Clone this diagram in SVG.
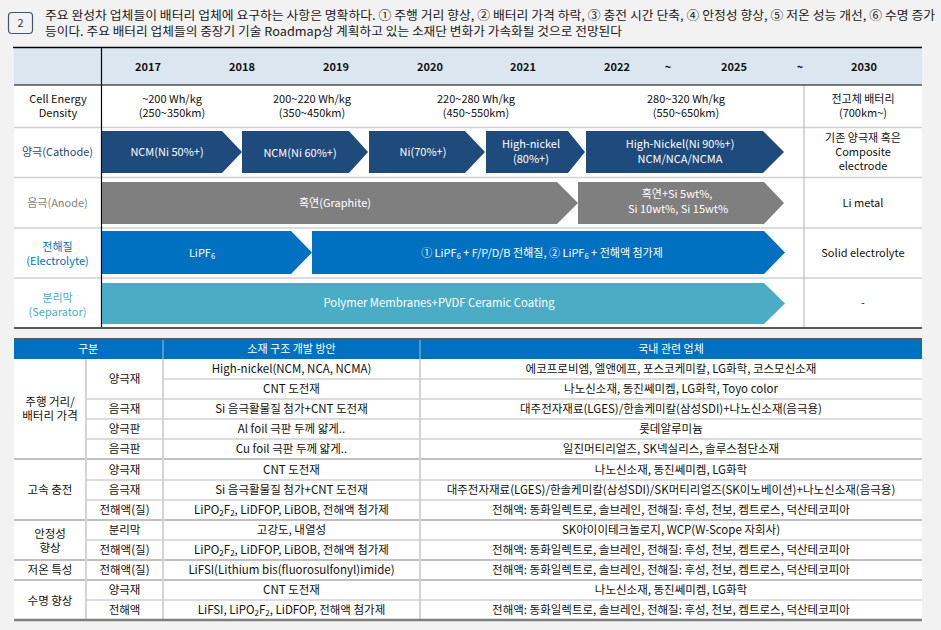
<svg xmlns="http://www.w3.org/2000/svg" width="941" height="630" viewBox="0 0 941 630">
<style>
text{font-family:"Noto Sans CJK KR","Noto Sans",sans-serif;font-size:11px;fill:#111;text-anchor:middle}
.w{fill:#fff}
.yr{font-weight:bold;fill:#111}
.sub{font-size:7.5px}
.bt{font-size:11.5px}
.bt .sub{font-size:8px}
.ttl{font-size:12px;text-anchor:start;fill:#1a1a1a}
.rl{stroke:#d0d0d0;stroke-width:1.5;fill:none}
.gl{stroke:#c0c0c0;stroke-width:2;fill:none}
.vl{stroke:#d4d4d4;stroke-width:2;fill:none}
.cat{fill:#1f4a7c}
.ano{fill:#7f7f7f}
.ele{fill:#0070c0}
.sep{fill:#4bacc6}
</style>
<rect x="0" y="0" width="941" height="630" fill="#f2f2f2"/>

<g id="title">
<rect x="8.5" y="12.5" width="24" height="21" rx="3.5" fill="none" stroke="#44546a" stroke-width="1.2"/>
<text x="20.5" y="27" style="font-size:11px;fill:#333">2</text>
<text class="ttl" x="45" y="19.5" textLength="890" lengthAdjust="spacingAndGlyphs">주요 완성차 업체들이 배터리 업체에 요구하는 사항은 명확하다. ① 주행 거리 향상, ② 배터리 가격 하락, ③ 충전 시간 단축, ④ 안정성 향상, ⑤ 저온 성능 개선, ⑥ 수명 증가</text>
<text class="ttl" x="45" y="36" textLength="577" lengthAdjust="spacingAndGlyphs">등이다. 주요 배터리 업체들의 중장기 기술 Roadmap상 계획하고 있는 소재단 변화가 가속화될 것으로 전망된다</text>
</g>

<g id="roadmap-table">
<rect x="14" y="48" width="908" height="280" fill="#fff"/>
<rect x="14" y="48" width="908" height="37" fill="#dce6f1"/>
<line x1="14" y1="127.5" x2="922" y2="127.5" class="rl"/>
<line x1="14" y1="177.5" x2="922" y2="177.5" class="rl"/>
<line x1="14" y1="228" x2="922" y2="228" class="rl"/>
<line x1="14" y1="278" x2="922" y2="278" class="rl"/>
<line x1="804" y1="85" x2="804" y2="328" stroke="#bfbfbf" stroke-width="1.2"/>
<line x1="13" y1="47.5" x2="922" y2="47.5" stroke="#000" stroke-width="1.5"/>
<line x1="14" y1="85" x2="922" y2="85" stroke="#000" stroke-width="1.2"/>
<line x1="101.5" y1="47.5" x2="101.5" y2="328" stroke="#000" stroke-width="1.2"/>
<line x1="14" y1="328" x2="922" y2="328" stroke="#595959" stroke-width="2"/>
</g>

<g id="years">
<text class="yr" x="148" y="70.5">2017</text>
<text class="yr" x="242" y="70.5">2018</text>
<text class="yr" x="336" y="70.5">2019</text>
<text class="yr" x="430" y="70.5">2020</text>
<text class="yr" x="523" y="70.5">2021</text>
<text class="yr" x="617" y="70.5">2022</text>
<text class="yr" x="668" y="70.5">~</text>
<text class="yr" x="734" y="70.5">2025</text>
<text class="yr" x="800" y="70.5">~</text>
<text class="yr" x="864" y="70.5">2030</text>
</g>

<g id="energy-density">
<text><tspan x="58" y="103">Cell Energy</tspan><tspan x="58" y="117">Density</tspan></text>
<text><tspan x="172" y="103">~200 Wh/kg</tspan><tspan x="172" y="117">(250~350km)</tspan></text>
<text><tspan x="312" y="103">200~220 Wh/kg</tspan><tspan x="312" y="117">(350~450km)</tspan></text>
<text><tspan x="476" y="103">220~280 Wh/kg</tspan><tspan x="476" y="117">(450~550km)</tspan></text>
<text><tspan x="686" y="103">280~320 Wh/kg</tspan><tspan x="686" y="117">(550~650km)</tspan></text>
<text><tspan x="863" y="103">전고체 배터리</tspan><tspan x="863" y="117">(700km~)</tspan></text>
</g>

<g id="cathode">
<text x="57.5" y="156" style="fill:#1f4a7c">양극(Cathode)</text>
<g id="cathode-1"><polygon class="cat" points="102,131 222,131 242,152 222,173 102,173"/><text class="w" x="167" y="156">NCM(Ni 50%+)</text></g>
<g id="cathode-2"><polygon class="cat" points="242,131 349,131 368,152 349,173 242,173"/><text class="w" x="300" y="156.5">NCM(Ni 60%+)</text></g>
<g id="cathode-3"><polygon class="cat" points="369,131 465,131 485,152 465,173 369,173"/><text class="w" x="423" y="156">Ni(70%+)</text></g>
<g id="cathode-4"><polygon class="cat" points="486,131 568,131 585,152 568,173 486,173"/><text class="w"><tspan x="531" y="148">High-nickel</tspan><tspan x="531" y="162.5">(80%+)</tspan></text></g>
<g id="cathode-5"><polygon class="cat" points="586,131 763,131 784,152 763,173 586,173"/><text class="w"><tspan x="680" y="148">High-Nickel(Ni 90%+)</tspan><tspan x="680" y="162.5">NCM/NCA/NCMA</tspan></text></g>
<g id="cathode-2030"><text><tspan x="863" y="142">기존 양극재 혹은</tspan><tspan x="863" y="156">Composite</tspan><tspan x="863" y="170">electrode</tspan></text></g>
</g>

<g id="anode">
<text x="57.5" y="206.5" style="fill:#7f7f7f">음극(Anode)</text>
<g id="anode-1"><polygon class="ano" points="102,182 557,182 578,203 557,224 102,224"/><text class="w" x="335" y="206.5">흑연(Graphite)</text></g>
<g id="anode-2"><polygon class="ano" points="578,182 764,182 784,203 764,224 578,224"/><text class="w"><tspan x="677" y="198">흑연+Si 5wt%,</tspan><tspan x="678" y="213">Si 10wt%, Si 15wt%</tspan></text></g>
<g id="anode-2030"><text x="863" y="206.5">Li metal</text></g>
</g>

<g id="electrolyte">
<text style="fill:#0070c0"><tspan x="57.5" y="251">전해질</tspan><tspan x="57.5" y="265">(Electrolyte)</tspan></text>
<g id="electrolyte-1"><polygon class="ele" points="102,231 291,231 312,252.5 291,274 102,274"/><text class="w" x="202" y="257">LiPF<tspan class="sub" dy="2">6</tspan></text></g>
<g id="electrolyte-2"><polygon class="ele" points="312,231 764,231 785,252.5 764,274 312,274"/><text class="w" x="542" y="257">① LiPF<tspan class="sub" dy="2">6</tspan><tspan dy="-2"> + F/P/D/B 전해질, ② LiPF</tspan><tspan class="sub" dy="2">6</tspan><tspan dy="-2"> + 전해액 첨가제</tspan></text></g>
<g id="electrolyte-2030"><text x="863" y="257">Solid electrolyte</text></g>
</g>

<g id="separator">
<text style="fill:#4bacc6"><tspan x="57.5" y="302">분리막</tspan><tspan x="57.5" y="315.5">(Separator)</tspan></text>
<g id="separator-1"><polygon class="sep" points="102,283 764,283 785,303.5 764,324 102,324"/><text class="w" x="439" y="307" style="font-size:11.3px">Polymer Membranes+PVDF Ceramic Coating</text></g>
<g id="separator-2030"><text x="863" y="307">-</text></g>
</g>

<g id="connectors"/>

<g id="material-table">
<rect x="14" y="339" width="908" height="281" fill="#fff"/>
<rect x="14" y="339" width="908" height="20" fill="#0070c0"/>
<line x1="163" y1="339" x2="163" y2="359" stroke="#9cc3e5" stroke-width="1"/>
<line x1="420" y1="339" x2="420" y2="359" stroke="#9cc3e5" stroke-width="1"/>
<line x1="14" y1="339" x2="922" y2="339" stroke="#595959" stroke-width="2"/>
<text class="w" x="88" y="353">구분</text>
<text class="w" x="291.5" y="353">소재 구조 개발 방안</text>
<text class="w" x="671" y="353">국내 관련 업체</text>
<line x1="163" y1="379" x2="922" y2="379" class="rl"/>
<line x1="86" y1="399" x2="922" y2="399" class="rl"/>
<line x1="86" y1="419" x2="922" y2="419" class="rl"/>
<line x1="86" y1="439" x2="922" y2="439" class="rl"/>
<line x1="14" y1="459" x2="922" y2="459" class="gl"/>
<line x1="86" y1="480" x2="922" y2="480" class="rl"/>
<line x1="86" y1="500" x2="922" y2="500" class="rl"/>
<line x1="14" y1="520" x2="922" y2="520" class="gl"/>
<line x1="86" y1="540" x2="922" y2="540" class="rl"/>
<line x1="14" y1="560" x2="922" y2="560" class="gl"/>
<line x1="14" y1="580" x2="922" y2="580" class="gl"/>
<line x1="86" y1="600" x2="922" y2="600" class="rl"/>
<line x1="86" y1="359" x2="86" y2="620" class="vl"/>
<line x1="163" y1="359" x2="163" y2="620" class="vl"/>
<line x1="420" y1="359" x2="420" y2="620" class="vl"/>
<line x1="14" y1="620" x2="922" y2="620" stroke="#7f7f7f" stroke-width="2.5"/>
</g>

<g id="group-range">
<text class="bt"><tspan x="50" y="406">주행 거리/</tspan><tspan x="50" y="420">배터리 가격</tspan></text>
<text class="bt" x="124.5" y="383">양극재</text>
<text class="bt" x="291.5" y="373">High-nickel(NCM, NCA, NCMA)</text>
<text class="bt" x="671" y="373">에코프로비엠, 엘앤에프, 포스코케미칼, LG화학, 코스모신소재</text>
<text class="bt" x="291.5" y="393">CNT 도전재</text>
<text class="bt" x="671" y="393">나노신소재, 동진쎄미켐, LG화학, Toyo color</text>
<text class="bt" x="124.5" y="413">음극재</text>
<text class="bt" x="291.5" y="413">Si 음극활물질 첨가+CNT 도전재</text>
<text class="bt" x="671" y="413">대주전자재료(LGES)/한솔케미칼(삼성SDI)+나노신소재(음극용)</text>
<text class="bt" x="124.5" y="433">양극판</text>
<text class="bt" x="291.5" y="433">Al foil 극판 두께 얇게..</text>
<text class="bt" x="671" y="433">롯데알루미늄</text>
<text class="bt" x="124.5" y="453">음극판</text>
<text class="bt" x="291.5" y="453">Cu foil 극판 두께 얇게..</text>
<text class="bt" x="671" y="453">일진머티리얼즈, SK넥실리스, 솔루스첨단소재</text>
</g>

<g id="group-fast-charge">
<text class="bt" x="50" y="494">고속 충전</text>
<text class="bt" x="124.5" y="473.5">양극재</text>
<text class="bt" x="291.5" y="473.5">CNT 도전재</text>
<text class="bt" x="671" y="473.5">나노신소재, 동진쎄미켐, LG화학</text>
<text class="bt" x="124.5" y="494">음극재</text>
<text class="bt" x="291.5" y="494">Si 음극활물질 첨가+CNT 도전재</text>
<text class="bt" x="671" y="494">대주전자재료(LGES)/한솔케미칼(삼성SDI)/SK머티리얼즈(SK이노베이션)+나노신소재(음극용)</text>
<text class="bt" x="124.5" y="514">전해액(질)</text>
<text class="bt" x="291.5" y="514">LiPO<tspan class="sub" dy="2">2</tspan><tspan dy="-2">F</tspan><tspan class="sub" dy="2">2</tspan><tspan dy="-2">, LiDFOP, LiBOB, 전해액 첨가제</tspan></text>
<text class="bt" x="671" y="514">전해액: 동화일렉트로, 솔브레인, 전해질: 후성, 천보, 켐트로스, 덕산테코피아</text>
</g>

<g id="group-safety">
<text class="bt"><tspan x="50" y="538">안정성</tspan><tspan x="50" y="552">향상</tspan></text>
<text class="bt" x="124.5" y="534">분리막</text>
<text class="bt" x="291.5" y="534">고강도, 내열성</text>
<text class="bt" x="671" y="534">SK아이이테크놀로지, WCP(W-Scope 자회사)</text>
<text class="bt" x="124.5" y="554">전해액(질)</text>
<text class="bt" x="291.5" y="554">LiPO<tspan class="sub" dy="2">2</tspan><tspan dy="-2">F</tspan><tspan class="sub" dy="2">2</tspan><tspan dy="-2">, LiDFOP, LiBOB, 전해액 첨가제</tspan></text>
<text class="bt" x="671" y="554">전해액: 동화일렉트로, 솔브레인, 전해질: 후성, 천보, 켐트로스, 덕산테코피아</text>
</g>

<g id="group-low-temp">
<text class="bt" x="50" y="574">저온 특성</text>
<text class="bt" x="124.5" y="574">전해액(질)</text>
<text class="bt" x="291.5" y="574">LiFSI(Lithium bis(fluorosulfonyl)imide)</text>
<text class="bt" x="671" y="574">전해액: 동화일렉트로, 솔브레인, 전해질: 후성, 천보, 켐트로스, 덕산테코피아</text>
</g>

<g id="group-lifetime">
<text class="bt" x="50" y="605">수명 향상</text>
<text class="bt" x="124.5" y="594">양극재</text>
<text class="bt" x="291.5" y="594">CNT 도전재</text>
<text class="bt" x="671" y="594">나노신소재, 동진쎄미켐, LG화학</text>
<text class="bt" x="124.5" y="614">전해액</text>
<text class="bt" x="291.5" y="614">LiFSI, LiPO<tspan class="sub" dy="2">2</tspan><tspan dy="-2">F</tspan><tspan class="sub" dy="2">2</tspan><tspan dy="-2">, LiDFOP,  전해액 첨가제</tspan></text>
<text class="bt" x="671" y="614">전해액: 동화일렉트로, 솔브레인, 전해질: 후성, 천보, 켐트로스, 덕산테코피아</text>
</g>
</svg>
